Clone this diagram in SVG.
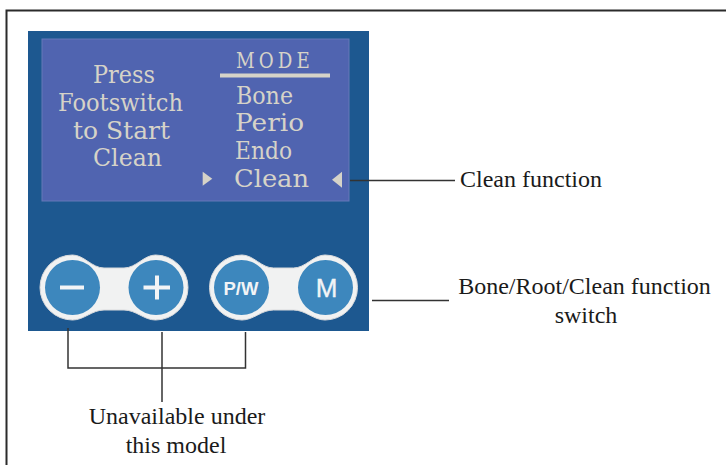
<svg xmlns="http://www.w3.org/2000/svg" width="726" height="465" viewBox="0 0 726 465">
<defs>
<style>
.lcd{font-family:"DejaVu Serif","Liberation Serif",serif;font-size:24px;fill:#d6d3c8;text-anchor:start}
.lab{font-family:"Liberation Serif","Times New Roman",serif;font-size:24px;fill:#1a1a1a;text-anchor:middle}
.ln{fill:none;stroke:#333;stroke-width:1.5}
.pill{fill:#f1f2f2;stroke:#d9dadc;stroke-width:1}
.btn{fill:#3d87bd}
.g{fill:#f2f4f6}
.bt{font-family:"Liberation Sans",Arial,sans-serif;fill:#f2f4f6;text-anchor:middle;font-weight:bold}
</style>
</defs>
<rect width="726" height="465" fill="#fff"/>
<path id="frame" d="M6.500 465V10.500H726" fill="none" stroke="#2b2b2b" stroke-width="2"/>
<g id="panel">
<rect x="28" y="31" width="341" height="300" fill="#1d5890"/>
</g>
<g id="lcd">
<rect x="42" y="39" width="307" height="162" fill="#5064b0" stroke="#6478b8" stroke-width="1"/>
<text class="lcd" x="93" y="83" textLength="62" lengthAdjust="spacingAndGlyphs">Press</text>
<text class="lcd" x="58" y="111" textLength="125" lengthAdjust="spacingAndGlyphs">Footswitch</text>
<text class="lcd" x="73" y="139" textLength="97" lengthAdjust="spacingAndGlyphs">to Start</text>
<text class="lcd" x="93" y="166" textLength="69" lengthAdjust="spacingAndGlyphs">Clean</text>
<text class="lcd" x="236" y="68" textLength="78" font-size="22" style="font-size:22px;letter-spacing:5px" lengthAdjust="spacingAndGlyphs">MODE</text>
<rect x="220" y="73.500" width="110" height="4" fill="#d6d3c8"/>
<text class="lcd" x="236" y="104" textLength="57" lengthAdjust="spacingAndGlyphs">Bone</text>
<text class="lcd" x="235" y="131" textLength="69" lengthAdjust="spacingAndGlyphs">Perio</text>
<text class="lcd" x="235" y="159" textLength="57" lengthAdjust="spacingAndGlyphs">Endo</text>
<text class="lcd" x="234" y="187" textLength="75" lengthAdjust="spacingAndGlyphs">Clean</text>
<path d="M202.700 171.700L212.300 178.700L202.700 185.700Z" fill="#d6d3c8"/>
<path d="M342 171.700L332 179.700L342 187.700Z" fill="#d6d3c8"/>
</g>
<g id="keypad-left">
<path class="pill" d="M72.500 255C84 255 92 268 104 268H124C136 268 144 255 155.500 255A32.500 32.500 0 0 1 155.500 320C144 320 136 310 124 310H104C92 310 84 320 72.500 320A32.500 32.500 0 0 1 72.500 255Z"/>
<circle class="btn" cx="72.500" cy="287.500" r="27.500"/>
<circle class="btn" cx="156" cy="287.500" r="27.500"/>
<rect class="g" x="60" y="285.500" width="24" height="4"/>
<path class="g" d="M155 275.500h4v10h11v4h-11v10h-4v-10h-11.500v-4h11.500z"/>
</g>
<g id="keypad-right">
<path class="pill" d="M242 255C253.500 255 261.500 268 273.500 268H293.500C305.500 268 313.500 255 325 255A32.500 32.500 0 0 1 325 320C313.500 320 305.500 310 293.500 310H273.500C261.500 310 253.500 320 242 320A32.500 32.500 0 0 1 242 255Z"/>
<circle class="btn" cx="241.500" cy="287.500" r="27.500"/>
<circle class="btn" cx="325.500" cy="287.500" r="27.500"/>
<text class="bt" x="241" y="295" font-size="18.500">P/W</text>
<text class="bt" x="326.500" y="297" font-size="26" stroke="#f2f4f6" stroke-width="0.400" style="font-weight:normal">M</text>
</g>
<g id="connectors">
<path class="ln" d="M68 328V368H245.500V332"/>
<path class="ln" d="M162 332V402"/>
<path class="ln" d="M350 180.500H455"/>
<path class="ln" d="M372 300.500H449"/>
</g>
<g id="labels">
<text class="lab" x="531" y="187">Clean function</text>
<text class="lab" x="584.500" y="294">Bone/Root/Clean function</text>
<text class="lab" x="586" y="323">switch</text>
<text class="lab" x="177" y="424">Unavailable under</text>
<text class="lab" x="176" y="453">this model</text>
</g>
</svg>
